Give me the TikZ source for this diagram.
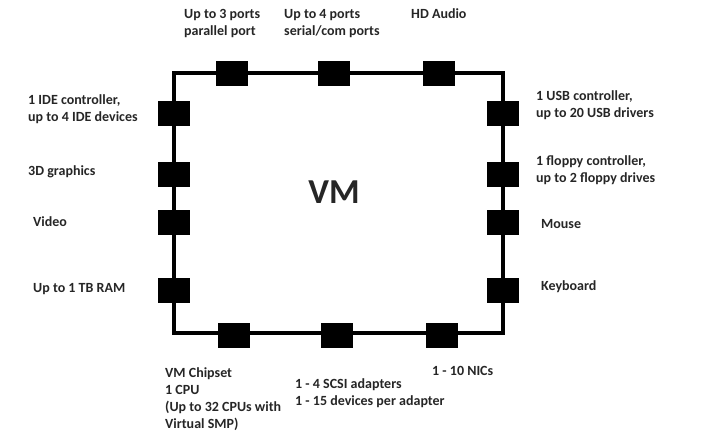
\documentclass[tikz,border=0pt]{standalone}
\usepackage{fontspec}
\setmainfont{Carlito}
\begin{document}
\begin{tikzpicture}[x=1pt,y=-1pt,
  port/.style={fill=black,draw=none,minimum width=32pt,minimum height=25pt,inner sep=0pt},
  lbl/.style={anchor=west,align=left,inner sep=0pt,text=black!85,font=\bfseries\fontsize{14}{17}\selectfont},
  bus/.style={line width=3.4pt,line join=miter}]
\useasboundingbox (0,0) rectangle (706,446);
\coordinate (tl) at (174,73);
\coordinate (tr) at (503,73);
\coordinate (br) at (503,333);
\coordinate (bl) at (174,333);
\draw[bus] (tl) -- (tr) -- (br) -- (bl) -- cycle;
% top
\node[port] (p1) at (232,74) {};
\node[port] (p2) at (334,74) {};
\node[port] (p3) at (439,74) {};
% left
\node[port] (l1) at (174,113.5) {};
\node[port] (l2) at (174,174.5) {};
\node[port] (l3) at (174,223) {};
\node[port] (l4) at (174,290) {};
% right
\node[port] (r1) at (503,113.5) {};
\node[port] (r2) at (503,174.5) {};
\node[port] (r3) at (503,223) {};
\node[port] (r4) at (503,290) {};
% bottom
\node[port] (b1) at (234,335) {};
\node[port] (b2) at (337,335) {};
\node[port] (b3) at (442,335) {};
% labels
\node[lbl] (tp1) at (184,24) {Up to 3 ports\\parallel port};
\node[lbl] (tp2) at (284,24) {Up to 4 ports\\serial/com ports};
\node[lbl] (tp3) at (411,14) {HD Audio};
\node[lbl] (tl1) at (28,109.5) {1 IDE controller,\\up to 4 IDE devices};
\node[lbl] (tl2) at (28,172) {3D graphics};
\node[lbl] (tl3) at (33,222) {Video};
\node[lbl] (tl4) at (33,289) {Up to 1 TB RAM};
\node[lbl] (tr1) at (536,105) {1 USB controller,\\up to 20 USB drivers};
\node[lbl] (tr2) at (536,170.5) {1 floppy controller,\\up to 2 floppy drives};
\node[lbl] (tr3) at (541,224) {Mouse};
\node[lbl] (tr4) at (541,287) {Keyboard};
\node[lbl] (tb1) at (165,399.5) {VM Chipset\\1 CPU\\(Up to 32 CPUs with\\Virtual SMP)};
\node[lbl] (tb2) at (295,393.5) {1 - 4 SCSI adapters\\1 - 15 devices per adapter};
\node[lbl] (tb3) at (432,371) {1 - 10 NICs};
\node[inner sep=0pt,text=black!85,font=\bfseries\fontsize{35}{40}\selectfont] (vm) at (334,192) {VM};
\end{tikzpicture}
\end{document}
